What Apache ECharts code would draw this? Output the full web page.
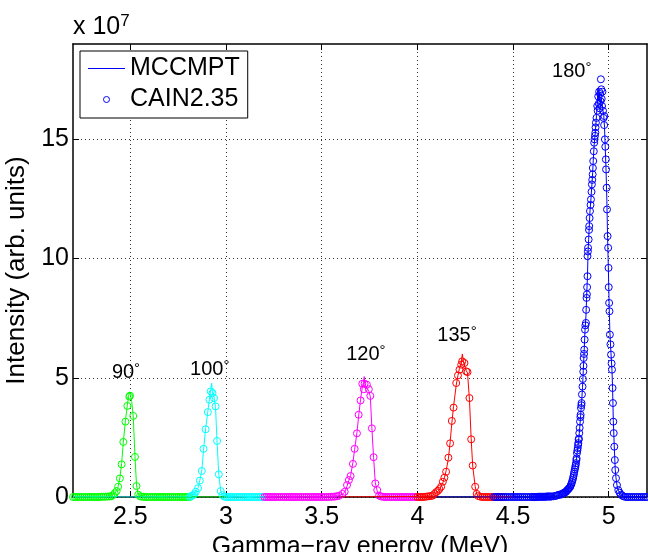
<!DOCTYPE html>
<html>
<head>
<meta charset="utf-8">
<script src="https://cdn.jsdelivr.net/npm/echarts@6/dist/echarts.min.js"></script>
<style>
  html, body { margin: 0; padding: 0; background: #fff; }
  #chart { width: 648px; height: 552px; }
</style>
</head>
<body>
<div id="chart"></div>
<script>
// tick values
const xTicks = [2.5, 3, 3.5, 4, 4.5, 5];
const yTicks = [0, 5, 10, 15];

// peak annotations (energy MeV, intensity x1e7)
const angles = ['90', '100', '120', '135', '180'];
const labelE = [2.477, 2.915, 3.731, 4.207, 4.807];
const labelI = [5.22, 5.36, 5.98, 6.76, 17.84];

// MCCMPT (line) and CAIN2.35 (circles), [energy, intensity x1e7]
const mc90 = [[2.20,0],[2.36,0.01],[2.40,0.03],[2.409,0.08],[2.418,0.16],[2.428,0.27],[2.436,0.45],[2.445,0.80],[2.454,1.40],[2.463,2.30],[2.474,3.20],[2.484,3.85],[2.490,4.20],[2.495,4.40],[2.500,4.30],[2.507,4.00],[2.515,3.35],[2.524,1.70],[2.532,0.50],[2.541,0.10],[2.55,0.02],[2.58,0],[3.00,0]];
const cain90 = [[2.20,0],[2.21,0],[2.22,0],[2.23,0],[2.24,0],[2.25,0],[2.26,0],[2.27,0],[2.28,0],[2.29,0],
  [2.30,0],[2.31,0],[2.32,0],[2.33,0],[2.34,0],[2.35,0.01],[2.36,0.01],[2.37,0.01],[2.38,0.02],[2.39,0.02],
  [2.400,0.03],[2.409,0.08],[2.418,0.15],[2.428,0.25],[2.436,0.43],[2.445,0.78],[2.454,1.37],[2.463,2.31],[2.474,3.16],[2.484,3.82],[2.494,4.21],[2.498,4.25],[2.515,3.40],[2.524,1.68],[2.532,0.46],[2.541,0.10],[2.550,0.03],
  [2.56,0.01],[2.57,0.01],[2.58,0],[2.59,0],[2.60,0],[2.61,0],[2.62,0],[2.63,0],[2.64,0],[2.65,0],[2.66,0],[2.67,0],[2.68,0],[2.69,0],
  [2.70,0],[2.71,0],[2.72,0],[2.73,0],[2.74,0],[2.75,0],[2.76,0],[2.77,0],[2.78,0],[2.79,0],[2.80,0],[2.81,0]];

const mc100 = [[2.20,0],[2.80,0],[2.82,0.04],[2.833,0.10],[2.842,0.20],[2.854,0.40],[2.863,0.70],[2.873,1.10],[2.882,1.95],[2.893,2.85],[2.905,3.60],[2.913,4.10],[2.920,4.50],[2.925,4.78],[2.929,4.35],[2.937,4.20],[2.945,3.75],[2.953,2.30],[2.962,0.95],[2.972,0.25],[2.981,0.06],[2.99,0.01],[3.20,0]];
const cain100 = [[2.81,0.01],[2.82,0.04],[2.826,0.07],[2.833,0.11],[2.842,0.22],[2.854,0.37],[2.863,0.69],[2.873,1.09],[2.882,2.02],[2.893,2.84],[2.905,3.56],[2.913,4.08],[2.920,4.43],[2.929,4.36],[2.937,4.15],[2.945,3.80],[2.953,2.35],[2.962,0.95],[2.972,0.25],[2.981,0.08],[2.99,0.02],
  [3.00,0],[3.01,0],[3.02,0],[3.03,0],[3.04,0],[3.05,0],[3.06,0],[3.07,0],[3.08,0],[3.09,0],
  [3.10,0],[3.11,0],[3.12,0],[3.13,0],[3.14,0],[3.15,0],[3.16,0],[3.17,0],[3.18,0],[3.19,0],[3.20,0]];

const mc120 = [[3.20,0],[3.55,0.01],[3.59,0.05],[3.608,0.12],[3.620,0.20],[3.632,0.45],[3.642,0.70],[3.651,0.90],[3.663,1.45],[3.672,2.00],[3.684,2.70],[3.693,3.40],[3.703,4.10],[3.712,4.60],[3.718,4.80],[3.722,5.05],[3.726,4.70],[3.736,4.75],[3.746,4.45],[3.754,4.20],[3.762,2.90],[3.771,1.65],[3.780,0.60],[3.790,0.25],[3.800,0.05],[3.82,0],[4.00,0]];
const cain120 = [[3.20,0],[3.21,0],[3.22,0],[3.23,0],[3.24,0],[3.25,0],[3.26,0],[3.27,0],[3.28,0],[3.29,0],
  [3.30,0],[3.31,0],[3.32,0],[3.33,0],[3.34,0],[3.35,0],[3.36,0],[3.37,0],[3.38,0],[3.39,0],
  [3.40,0],[3.41,0],[3.42,0],[3.43,0],[3.44,0],[3.45,0],[3.46,0],[3.47,0],[3.48,0],[3.49,0],
  [3.50,0],[3.51,0],[3.52,0],[3.53,0],[3.54,0],[3.55,0.01],[3.56,0.01],[3.57,0.02],[3.58,0.03],[3.59,0.05],
  [3.608,0.13],[3.620,0.22],[3.632,0.50],[3.642,0.71],[3.651,0.88],[3.663,1.39],[3.672,2.02],[3.684,2.67],[3.693,3.45],[3.703,4.05],[3.712,4.75],[3.720,4.52],[3.724,4.75],[3.736,4.71],[3.746,4.52],[3.754,4.24],[3.762,2.88],[3.771,1.67],[3.780,0.57],[3.790,0.29],[3.800,0.06],
  [3.81,0.02],[3.82,0.01],[3.83,0],[3.84,0],[3.85,0],[3.86,0],[3.87,0],[3.88,0],[3.89,0],
  [3.90,0],[3.91,0],[3.92,0],[3.93,0],[3.94,0],[3.95,0],[3.96,0],[3.97,0],[3.98,0],[3.99,0],[4.00,0]];

const mc135 = [[3.60,0],[4.07,0.03],[4.080,0.05],[4.100,0.18],[4.115,0.30],[4.124,0.45],[4.133,0.60],[4.141,0.80],[4.150,1.10],[4.162,1.60],[4.171,2.30],[4.180,3.10],[4.189,3.80],[4.203,4.70],[4.212,5.10],[4.220,5.40],[4.228,5.60],[4.235,6.00],[4.240,5.70],[4.246,5.65],[4.255,5.30],[4.262,5.20],[4.272,4.10],[4.281,2.45],[4.289,1.30],[4.302,0.45],[4.310,0.12],[4.320,0.03],[4.50,0]];
const cain135 = [[4.00,0],[4.01,0],[4.02,0],[4.03,0],[4.04,0.01],[4.05,0.02],[4.06,0.03],[4.07,0.04],
  [4.080,0.06],[4.089,0.13],[4.098,0.20],[4.107,0.26],[4.115,0.33],[4.124,0.43],[4.133,0.64],[4.141,0.81],[4.150,1.06],[4.162,1.65],[4.171,2.25],[4.180,3.19],[4.189,3.75],[4.203,4.78],[4.212,5.10],[4.220,5.34],[4.229,5.55],[4.234,5.69],[4.246,5.62],[4.255,5.27],[4.262,5.24],[4.272,4.15],[4.281,2.42],[4.289,1.32],[4.302,0.43],[4.310,0.13],[4.318,0.04],
  [4.33,0.01],[4.34,0],[4.35,0],[4.36,0],[4.37,0],[4.38,0],[4.39,0],[4.40,0],[4.41,0],[4.42,0],[4.43,0],[4.44,0],[4.45,0]];

const mc180 = [[4.10,0],[4.60,0],[4.70,0.02],[4.75,0.09],[4.777,0.22],[4.799,0.45],[4.811,0.70],[4.820,1.05],[4.829,1.45],[4.838,2.05],[4.846,2.65],[4.853,3.40],[4.858,3.95],[4.863,4.60],[4.867,5.30],[4.872,6.20],[4.876,7.00],[4.881,7.60],[4.884,8.30],[4.889,9.30],[4.892,10.30],[4.895,10.80],[4.898,11.30],[4.902,12.00],[4.907,12.50],[4.912,13.10],[4.916,13.60],[4.919,14.10],[4.924,14.80],[4.930,15.30],[4.936,16.00],[4.940,16.50],[4.944,17.15],[4.948,16.60],[4.952,16.90],[4.957,16.50],[4.962,16.70],[4.968,16.30],[4.974,16.00],[4.978,15.50],[4.982,14.60],[4.986,13.70],[4.990,12.50],[4.994,10.90],[4.998,9.60],[5.002,8.10],[5.006,6.90],[5.012,6.00],[5.017,5.30],[5.020,4.60],[5.024,3.20],[5.029,2.10],[5.034,1.15],[5.038,0.80],[5.043,0.50],[5.050,0.28],[5.064,0.10],[5.080,0.02],[5.20,0]];
const cain180 = [[4.40,0],[4.41,0],[4.42,0],[4.43,0],[4.44,0],[4.45,0],[4.46,0],[4.47,0],[4.48,0],[4.49,0],
  [4.50,0],[4.51,0],[4.52,0],[4.53,0],[4.54,0],[4.55,0],[4.56,0],[4.57,0],[4.58,0],[4.59,0],[4.60,0],
  [4.605,0],[4.61,0],[4.615,0],[4.62,0],[4.625,0],[4.63,0.01],[4.635,0.01],[4.64,0.01],[4.645,0.01],[4.65,0.01],
  [4.655,0.01],[4.66,0.01],[4.665,0.01],[4.67,0.01],[4.675,0.02],[4.68,0.02],[4.685,0.02],[4.69,0.02],[4.695,0.02],
  [4.700,0.02],[4.710,0.03],[4.720,0.04],[4.728,0.06],[4.735,0.08],[4.742,0.10],[4.751,0.10],[4.756,0.13],[4.760,0.14],[4.765,0.17],
  [4.768,0.18],[4.773,0.20],[4.777,0.22],[4.781,0.27],[4.785,0.30],[4.789,0.33],[4.792,0.36],[4.796,0.40],[4.799,0.43],[4.802,0.50],
  [4.805,0.55],[4.808,0.63],[4.811,0.71],[4.814,0.80],[4.816,0.88],[4.818,0.97],[4.820,1.06],[4.823,1.16],[4.825,1.25],[4.827,1.33],
  [4.829,1.42],[4.831,1.55],[4.832,1.62],[4.834,1.84],[4.836,1.95],[4.838,2.05],[4.840,2.18],[4.841,2.26],[4.843,2.40],[4.844,2.45],
  [4.846,2.68],[4.848,2.90],[4.850,3.16],[4.852,3.35],[4.853,3.45],[4.855,3.73],[4.857,3.85],[4.858,3.94],[4.860,4.30],[4.863,4.63],
  [4.865,4.95],[4.867,5.26],[4.868,5.50],[4.869,5.83],[4.871,6.00],[4.872,6.18],[4.874,6.60],[4.876,7.02],[4.878,7.20],[4.881,7.30],
  [4.882,7.85],[4.884,8.35],[4.886,8.50],[4.887,8.80],[4.889,9.26],[4.889,10.10],[4.891,10.30],[4.892,10.45],[4.895,10.80],[4.897,11.20],
  [4.898,11.36],[4.900,11.70],[4.902,11.99],[4.905,12.25],[4.907,12.48],[4.910,12.80],[4.912,13.11],[4.914,13.30],[4.916,13.53],[4.917,13.80],
  [4.919,14.09],[4.922,14.50],[4.924,14.86],[4.926,15.00],[4.928,15.15],[4.930,15.28],[4.931,15.50],[4.933,15.70],
  [4.936,15.90],[4.940,16.40],[4.942,16.20],[4.945,16.80],[4.948,16.50],[4.950,17.00],[4.952,16.30],[4.955,16.90],[4.957,16.60],[4.959,17.52],
  [4.961,17.10],[4.963,16.70],[4.965,16.40],[4.967,17.00],[4.970,16.20],[4.973,15.90],[4.976,15.60],
  [4.977,15.98],[4.980,15.00],[4.982,14.69],[4.985,14.16],[4.986,13.74],[4.989,12.97],[4.991,12.06],[4.994,10.94],[4.997,10.45],[4.999,9.61],
  [5.000,8.80],[5.002,8.14],[5.004,7.79],[5.006,6.81],[5.009,6.40],[5.012,5.97],[5.015,5.60],[5.017,5.34],[5.020,4.57],[5.022,3.94],
  [5.024,3.16],[5.026,2.68],[5.029,2.11],[5.032,1.55],[5.034,1.13],[5.038,0.79],[5.043,0.50],[5.050,0.29],[5.057,0.18],[5.064,0.10],
  [5.072,0.05],[5.080,0.02],[5.09,0],[5.10,0],[5.11,0],[5.12,0],[5.13,0],[5.14,0],[5.15,0],[5.16,0],[5.17,0],[5.18,0],[5.19,0],[5.20,0]];

const FONT = 'Liberation Sans, Arial, Helvetica, sans-serif';
const colors = ['#00ff00', '#00ffff', '#ff00ff', '#ff0000', '#0000ff'];
const lines = [mc90, mc100, mc120, mc135, mc180];
const circles = [cain90, cain100, cain120, cain135, cain180];

const chart = echarts.init(document.getElementById('chart'), null, { renderer: 'canvas' });

const series = [];
lines.forEach(function (d, i) {
    const last = i === lines.length - 1;
    series.push({
        type: 'line',
        name: last ? 'MCCMPT' : 'MCCMPT ' + angles[i],
        data: d,
        symbol: 'none',
        showSymbol: false,
        silent: true,
        lineStyle: { color: colors[i], width: 1 },
        itemStyle: { color: colors[i] },
        animation: false,
    });
    series.push({
        type: 'scatter',
        name: last ? 'CAIN2.35' : 'CAIN2.35 ' + angles[i],
        data: circles[i],
        symbol: 'circle',
        symbolSize: 7,
        silent: true,
        itemStyle: { color: 'rgba(0,0,0,0)', borderColor: colors[i], borderWidth: 1, opacity: 1 },
        animation: false,
    });
});

// angle labels
series.push({
    type: 'scatter',
    name: 'angles',
    symbolSize: 0,
    silent: true,
    z: 10,
    itemStyle: { opacity: 1 },
    data: labelE.map(function (e, i) { return [e, labelI[i], angles[i]]; }),
    label: {
        show: true,
        position: 'inside',
        color: '#000',
        textBorderWidth: 0,
        formatter: function (p) { return '{n|' + p.data[2] + '}{d|°}'; },
        rich: {
            n: { fontSize: 20, fontFamily: FONT, color: '#000', lineHeight: 22, textBorderWidth: 0 },
            d: { fontSize: 15, fontFamily: FONT, color: '#000', verticalAlign: 'top', lineHeight: 11, textBorderWidth: 0 },
        },
    },
    animation: false,
});

const option = {
    backgroundColor: '#fff',
    animation: false,
    title: {
        text: '{a|x 10}{b|7}',
        left: 73,
        top: 13,
        padding: 0,
        textStyle: {
            fontWeight: 'normal',
            rich: {
                a: { fontSize: 25, fontFamily: FONT, fontWeight: 'normal', color: '#000', lineHeight: 28 },
                b: { fontSize: 17, fontFamily: FONT, fontWeight: 'normal', color: '#000', verticalAlign: 'top', lineHeight: 14 },
            },
        },
    },
    legend: {
        orient: 'vertical',
        left: 80,
        top: 51,
        padding: [5, 8, 6, 8],
        itemGap: 6,
        itemWidth: 37,
        itemHeight: 6,
        borderColor: '#000',
        borderWidth: 1,
        backgroundColor: '#fff',
        selectedMode: false,
        textStyle: { fontSize: 25, fontFamily: FONT, color: '#000' },
        data: [
            { name: 'MCCMPT', icon: 'path://M0,0h40v1h-40z', itemStyle: { color: '#0000ff' } },
            { name: 'CAIN2.35', icon: 'circle', itemStyle: { color: 'rgba(0,0,0,0)', borderColor: '#0000ff', borderWidth: 1 } },
        ],
    },
    grid: { left: 73, right: 1, top: 44, bottom: 55, outerBoundsMode: 'none', containLabel: false },
    xAxis: [
        {
            type: 'value',
            min: 2.2,
            max: 5.2,
            name: 'Gamma\u2212ray energy (MeV)',
            nameLocation: 'middle',
            nameGap: 31,
            nameTextStyle: { fontSize: 25, fontFamily: FONT, color: '#000' },
            axisLine: { onZero: false, lineStyle: { color: '#000', width: 1.5 } },
            axisTick: { inside: true, length: 6, customValues: xTicks, lineStyle: { color: '#000' } },
            axisLabel: { customValues: xTicks, fontSize: 25, fontFamily: FONT, color: '#000', margin: 8 },
            splitLine: { show: true, lineStyle: { type: [1, 3], color: '#333', width: 1 } },
        },
        {
            type: 'value',
            position: 'top',
            min: 2.2,
            max: 5.2,
            axisLine: { onZero: false, lineStyle: { color: '#000', width: 1.5 } },
            axisTick: { inside: true, length: 6, customValues: xTicks, lineStyle: { color: '#000' } },
            axisLabel: { show: false },
            splitLine: { show: false },
        },
    ],
    yAxis: [
        {
            type: 'value',
            min: 0,
            max: 19,
            name: 'Intensity (arb. units)',
            nameLocation: 'middle',
            nameGap: 38,
            nameTextStyle: { fontSize: 26, fontFamily: FONT, color: '#000' },
            axisLine: { show: true, onZero: false, lineStyle: { color: '#000', width: 1.5 } },
            axisTick: { show: true, inside: true, length: 6, customValues: yTicks, lineStyle: { color: '#000' } },
            axisLabel: { customValues: yTicks, fontSize: 25, fontFamily: FONT, color: '#000', margin: 4 },
            splitLine: { show: true, lineStyle: { type: [1, 3], color: '#333', width: 1 } },
        },
        {
            type: 'value',
            position: 'right',
            min: 0,
            max: 19,
            axisLine: { show: true, onZero: false, lineStyle: { color: '#000', width: 1.5 } },
            axisTick: { show: true, inside: true, length: 6, customValues: yTicks, lineStyle: { color: '#000' } },
            axisLabel: { show: false },
            splitLine: { show: false },
        },
    ],
    series: series,
};

chart.setOption(option);
</script>
</body>
</html>
